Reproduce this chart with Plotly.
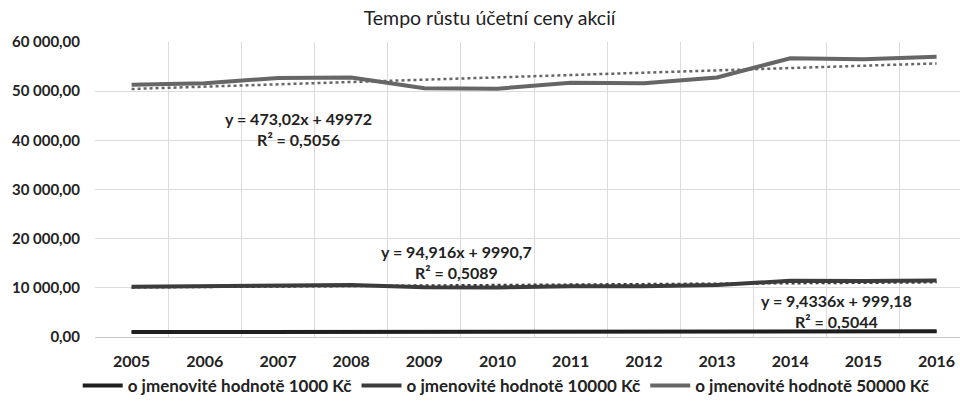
import numpy as np
import plotly.graph_objects as go

# ── Data ─────────────────────────────────────────────────────────────────────
years = ["2005", "2006", "2007", "2008", "2009", "2010",
         "2011", "2012", "2013", "2014", "2015", "2016"]

nom_1000 = [1022, 1027, 1047, 1057, 1012, 1008, 1033, 1032, 1057, 1143, 1138, 1148]
nom_10000 = [10230, 10280, 10480, 10580, 10130, 10080, 10330, 10330, 10580, 11430, 11380, 11480]
nom_50000 = [51300, 51600, 52700, 52800, 50600, 50500, 51700, 51600, 52800, 56700, 56500, 57000]

series_names = ["o jmenovité hodnotě 1000 Kč",
                "o jmenovité hodnotě 10000 Kč",
                "o jmenovité hodnotě 50000 Kč"]

# Excel linear trendline coefficients (slope, intercept, R²) as printed
trend_1000 = (9.4336, 999.18, 0.5044)
trend_10000 = (94.916, 9990.7, 0.5089)
trend_50000 = (473.02, 49972, 0.5056)

y_ticks = [0, 10000, 20000, 30000, 40000, 50000, 60000]

# ── Styling ──────────────────────────────────────────────────────────────────
_COL = {
    "1000": "#1f1f1f",
    "10000": "#3c3c3c",
    "50000": "#666666",
    "grid": "#dcdcdc",
    "text": "#222222",
}
FONT = "Lato, 'Open Sans', sans-serif"


def _fmt(v):
    return f"{v}".replace(".", ",")


fig = go.Figure()

x_idx = np.arange(1, len(years) + 1)
for name, vals, trend, key in [
    (series_names[0], nom_1000, trend_1000, "1000"),
    (series_names[1], nom_10000, trend_10000, "10000"),
    (series_names[2], nom_50000, trend_50000, "50000"),
]:
    fig.add_trace(go.Scatter(
        x=years, y=vals, name=name, mode="lines",
        line=dict(color=_COL[key], width=4),
    ))
    slope, icpt, _ = trend
    fig.add_trace(go.Scatter(
        x=years, y=slope * x_idx + icpt, mode="lines", showlegend=False,
        line=dict(color=_COL[key], width=2.5, dash="dot"),
        hoverinfo="skip",
    ))

# trendline equation labels
for trend, xpos, ypos in [
    (trend_50000, 2.28, 42400),
    (trend_10000, 4.44, 15200),
    (trend_1000, 9.63, 5200),
]:
    slope, icpt, r2 = trend
    fig.add_annotation(
        x=xpos, y=ypos, xref="x", yref="y", showarrow=False,
        text=f"y = {_fmt(slope)}x + {_fmt(icpt)}<br>R² = {_fmt(r2)}",
        font=dict(family=FONT, size=16, color=_COL["text"], weight="bold"),
        align="center",
    )

fig.update_layout(
    width=960, height=404,
    paper_bgcolor="white", plot_bgcolor="white",
    separators=", ",
    margin=dict(l=95, r=0, t=42, b=63),
    font=dict(family=FONT, color=_COL["text"]),
    title=dict(text="Tempo růstu účetní ceny akcií", x=0.51, xanchor="center",
               y=0.955, yanchor="middle",
               font=dict(family=FONT, size=19.5, color=_COL["text"])),
    legend=dict(orientation="h", x=-0.02, xanchor="left", y=-0.167,
                yanchor="middle", font=dict(family=FONT, size=17, weight="bold"),
                itemwidth=40, tracegroupgap=0),
    showlegend=True,
)

fig.update_xaxes(
    type="category", range=[-0.5, 11.32], tickson="boundaries",
    showgrid=True, gridcolor=_COL["grid"], gridwidth=1,
    showline=False, zeroline=False, ticks="", automargin=False,
    ticklabelstandoff=13,
    tickfont=dict(family=FONT, size=16, weight="bold", color=_COL["text"]),
)
fig.update_yaxes(
    range=[0, 60000], tickvals=y_ticks, tickformat=",.2f",
    showgrid=True, gridcolor=_COL["grid"], gridwidth=1,
    zeroline=True, zerolinecolor="#c8c8c8", zerolinewidth=1,
    showline=False, ticks="", ticklabelstandoff=14, automargin=False,
    tickfont=dict(family=FONT, size=15, weight="bold", color=_COL["text"]),
)

fig.write_html("out.html", config={"displayModeBar": False},
               post_script="document.body.style.margin='0';")
